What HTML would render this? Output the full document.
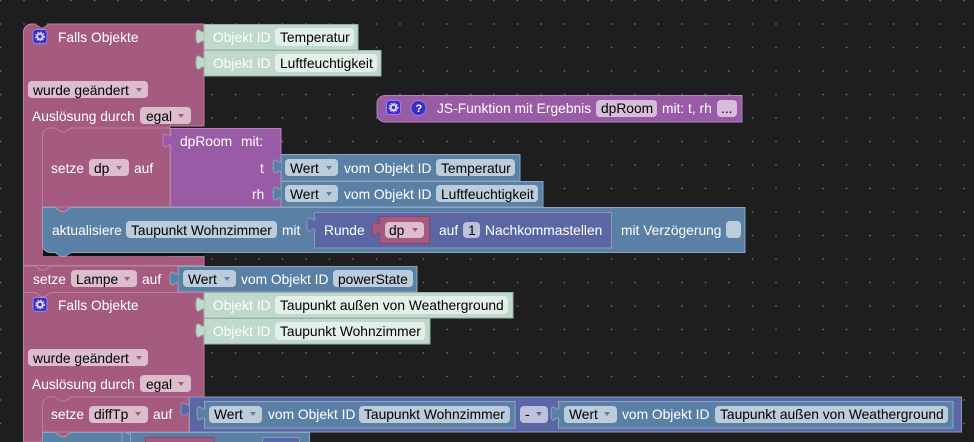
<!DOCTYPE html>
<html><head><meta charset="utf-8"><style>
html,body{margin:0;padding:0;background:#1e1e1e;width:974px;height:442px;overflow:hidden}
svg{display:block;position:absolute;left:0;top:0}
text{font-family:"Liberation Sans",sans-serif;font-size:13.8px;fill:#fff}
.k{fill:#000}
.pk{fill:#a55b80;stroke:#bd7f9e;stroke-width:1}
.bl{fill:#5b80a5;stroke:#8ca6c0;stroke-width:1}
.gr{fill:#bfd9cc;stroke:#98b3a5;stroke-width:1}
.pu{fill:#995ba5;stroke:#b384bd;stroke-width:1}
.in{fill:#5b67a5;stroke:#8c95c0;stroke-width:1}
.dp{fill:#a55b80;stroke:#8a4568;stroke-width:1}
.fp{fill:#dbbdcc}.fb{fill:#bdccdb}.fg{fill:#e5efea}.fu{fill:#d6bddb}.fi{fill:#bdc2db}
</style></head><body>
<svg width="974" height="442" viewBox="0 0 974 442" xmlns="http://www.w3.org/2000/svg">
<defs>
<pattern id="d" x="0" y="0" width="23.5" height="23.5" patternUnits="userSpaceOnUse"><circle cx="1" cy="1" r="0.9" fill="#6a6a6a"/></pattern>
<g id="ic"><rect x="0.5" y="0.5" width="14" height="14" rx="3" fill="#3d2cc9" stroke="#8f88e0"/><circle cx="7.500" cy="7.500" r="2.700" fill="none" stroke="#d8d4f5" stroke-width="2"/><circle cx="7.500" cy="7.500" r="4.300" fill="none" stroke="#d8d4f5" stroke-width="1.200" stroke-dasharray="1.6 1.3"/></g>
<path id="tab" d="M0 0c0,10 -8,-8 -8,7.500s8,-2.500 8,7.500"/>
</defs>
<rect width="974" height="442" fill="#1e1e1e"/>
<rect x="-1" y="-1" width="976" height="444" fill="url(#d)" transform="translate(-0.5,-0.5)"/>

<!-- JS function -->
<path class="pu" d="M385 95.500H742V122H385a8 8 0 0 1-8-8V104a8 8 0 0 1 8-8.500z"/>
<use href="#ic" x="386" y="100"/>
<circle cx="418.500" cy="108" r="7.500" fill="#3d2cc9" stroke="#8f88e0"/><text x="415.500" y="112" style="font-size:11px;font-weight:bold">?</text>
<text x="437" y="113">JS-Funktion mit Ergebnis</text>
<rect x="596" y="100" width="61" height="17" rx="4" class="fu"/><text x="601" y="113" class="k">dpRoom</text>
<text x="662" y="113">mit: t, rh</text>
<rect x="717" y="100" width="20" height="17" rx="4" class="fu"/><text x="721" y="113" class="k">...</text>

<!-- Block 1 -->
<rect x="30" y="262" width="30" height="10" fill="#a55b80"/>
<path class="pk" d="M23.500 32a8 8 0 0 1 8-8H35l6 4h2l6-4H204V126H170V256H204V265.500H23.500z"/>
<use href="#ic" x="32.500" y="29"/>
<text x="58" y="42">Falls Objekte</text>
<rect x="28" y="81" width="120" height="17" rx="4" class="fp"/><text x="33" y="95" class="k">wurde geändert</text><path d="M136 88h6l-3 4z" fill="#a55b80"/>
<text x="32" y="121">Auslösung durch</text>
<rect x="140" y="107" width="51" height="17" rx="4" class="fp"/><text x="146" y="121" class="k">egal</text><path d="M178 114h6l-3 4z" fill="#a55b80"/>

<path class="gr" d="M204 24.500H358V50H204z"/><use href="#tab" x="204" y="29" class="gr"/>
<text x="213" y="42">Objekt ID</text><rect x="275" y="28" width="79" height="18" rx="4" class="fg"/><text x="280" y="42" class="k">Temperatur</text>
<path class="gr" d="M204 50.500H381V76H204z"/><use href="#tab" x="204" y="55" class="gr"/>
<text x="213" y="68">Objekt ID</text><rect x="275" y="54" width="102" height="18" rx="4" class="fg"/><text x="280" y="68" class="k">Luftfeuchtigkeit</text>

<!-- setze dp -->
<rect x="43" y="250" width="161" height="6" fill="#111"/>
<rect x="53" y="204" width="20" height="9" fill="#a55b80"/>
<path class="pk" d="M42.500 136a8 8 0 0 1 8-8H55l6 4h4l6-4H170V207H42.500z"/>
<text x="51" y="173">setze</text>
<rect x="89" y="159" width="40" height="17" rx="4" class="fp"/><text x="94" y="173" class="k">dp</text><path d="M116 166h6l-3 4z" fill="#a55b80"/>
<text x="134" y="173">auf</text>
<path class="pu" d="M170.500 128.500H281V207H170.500z"/><use href="#tab" x="171" y="133" class="pu"/>
<text x="180" y="146">dpRoom</text><text x="241" y="146">mit:</text>
<text x="260" y="173">t</text><text x="252" y="199">rh</text>

<path class="bl" d="M281 154.500H520V181H281z"/><use href="#tab" x="281" y="159" class="bl"/>
<rect x="285" y="159" width="53" height="17" rx="4" class="fb"/><text x="290" y="173" class="k">Wert</text><path d="M326 166h6l-3 4z" fill="#5b80a5"/>
<text x="344" y="173">vom Objekt ID</text><rect x="436" y="159" width="79" height="17" rx="4" class="fb"/><text x="441" y="173" class="k">Temperatur</text>
<path class="bl" d="M281 181.500H543V207H281z"/><use href="#tab" x="281" y="186" class="bl"/>
<rect x="285" y="185" width="53" height="17" rx="4" class="fb"/><text x="290" y="199" class="k">Wert</text><path d="M326 192h6l-3 4z" fill="#5b80a5"/>
<text x="344" y="199">vom Objekt ID</text><rect x="436" y="185" width="102" height="17" rx="4" class="fb"/><text x="441" y="199" class="k">Luftfeuchtigkeit</text>

<!-- aktualisiere -->
<path class="bl" d="M42.500 207.500H55l6 4h4l6-4H745V252.500H71l-6 4h-4l-6-4H50a8 8 0 0 1-7.500-8z"/>
<text x="52" y="235">aktualisiere</text>
<rect x="126" y="221" width="151" height="17" rx="4" class="fb"/><text x="131" y="235" class="k">Taupunkt Wohnzimmer</text>
<text x="282" y="235">mit</text>
<path class="in" d="M314.500 212.500H611.500V248H314.500z"/><use href="#tab" x="315" y="217" class="in"/>
<text x="324" y="235">Runde</text>
<path class="dp" d="M379.500 216.500H429.500V243.500H379.500z"/><use href="#tab" x="380" y="221" class="dp"/>
<rect x="385" y="222" width="39" height="16" rx="4" class="fp"/><text x="389" y="235" class="k">dp</text><path d="M412 228h6l-3 4z" fill="#a55b80"/>
<text x="439" y="235">auf</text>
<rect x="463" y="222" width="17" height="16" rx="4" class="fi"/><text x="468" y="235" class="k">1</text>
<text x="485" y="235">Nachkommastellen</text>
<text x="621" y="235">mit Verzögerung</text>
<rect x="726" y="221" width="15" height="17" rx="4" class="fb"/>

<!-- setze Lampe -->
<path class="pk" d="M23.500 266H35l6 4h4l6-4H178V297H23.500z"/>
<text x="33" y="284">setze</text>
<rect x="71" y="270" width="66" height="17" rx="4" class="fp"/><text x="76" y="284" class="k">Lampe</text><path d="M124 277h6l-3 4z" fill="#a55b80"/>
<text x="142" y="284">auf</text>
<path class="bl" d="M178 266.500H417V292H178z"/><use href="#tab" x="178" y="271" class="bl"/>
<rect x="183" y="270" width="53" height="17" rx="4" class="fb"/><text x="188" y="284" class="k">Wert</text><path d="M224 277h6l-3 4z" fill="#5b80a5"/>
<text x="241" y="284">vom Objekt ID</text><rect x="333" y="270" width="80" height="17" rx="4" class="fb"/><text x="338" y="284" class="k">powerState</text>

<!-- Block 2 -->
<path class="pk" d="M23.500 292.500H35l6 4h4l6-4H204V442H23.500z"/>
<use href="#ic" x="32.500" y="297"/>
<text x="58" y="310">Falls Objekte</text>
<rect x="28" y="349" width="120" height="17" rx="4" class="fp"/><text x="33" y="363" class="k">wurde geändert</text><path d="M136 356h6l-3 4z" fill="#a55b80"/>
<text x="32" y="389">Auslösung durch</text>
<rect x="140" y="375" width="51" height="17" rx="4" class="fp"/><text x="146" y="389" class="k">egal</text><path d="M178 382h6l-3 4z" fill="#a55b80"/>
<path class="gr" d="M204 292.500H513V318H204z"/><use href="#tab" x="204" y="297" class="gr"/>
<text x="213" y="310">Objekt ID</text><rect x="275" y="296" width="233" height="18" rx="4" class="fg"/><text x="280" y="310" class="k">Taupunkt außen von Weatherground</text>
<path class="gr" d="M204 318.500H430V344H204z"/><use href="#tab" x="204" y="323" class="gr"/>
<text x="213" y="336">Objekt ID</text><rect x="275" y="322" width="150" height="18" rx="4" class="fg"/><text x="280" y="336" class="k">Taupunkt Wohnzimmer</text>

<!-- setze diffTp -->
<rect x="53" y="429" width="20" height="9" fill="#a55b80"/>
<path class="pk" d="M42.500 405a8 8 0 0 1 8-8H55l6 4h4l6-4H189V432H42.500z"/>
<text x="51" y="419">setze</text>
<rect x="89" y="406" width="59" height="17" rx="4" class="fp"/><text x="94" y="419" class="k">diffTp</text><path d="M135 412h6l-3 4z" fill="#a55b80"/>
<text x="153" y="419">auf</text>
<path class="in" d="M189.500 397H961.500V432H189.500z"/><use href="#tab" x="189" y="402" class="in"/>
<path class="bl" d="M204.500 401.500H515V428H204.500z"/><use href="#tab" x="205" y="406" class="bl"/>
<rect x="209" y="406" width="53" height="17" rx="4" class="fb"/><text x="214" y="419" class="k">Wert</text><path d="M250 412h6l-3 4z" fill="#5b80a5"/>
<text x="268" y="419">vom Objekt ID</text><rect x="359" y="406" width="151" height="17" rx="4" class="fb"/><text x="364" y="419" class="k">Taupunkt Wohnzimmer</text>
<rect x="520" y="406" width="28" height="17" rx="4" class="fi"/><text x="525" y="419" class="k">-</text><path d="M536 412h6l-3 4z" fill="#5b67a5"/>
<path class="bl" d="M558.500 401.500H953V428H558.500z"/><use href="#tab" x="559" y="406" class="bl"/>
<rect x="564" y="406" width="53" height="17" rx="4" class="fb"/><text x="569" y="419" class="k">Wert</text><path d="M604 412h6l-3 4z" fill="#5b80a5"/>
<text x="622" y="419">vom Objekt ID</text><rect x="715" y="406" width="233" height="17" rx="4" class="fb"/><text x="720" y="419" class="k">Taupunkt außen von Weatherground</text>

<!-- bottom -->
<path class="bl" d="M42.500 432.500H55l6 4h4l6-4H309.500V443H42.500z"/>
<path class="bl" d="M130.500 432.500V443"/><use href="#tab" x="130" y="431" class="bl"/>
<path class="dp" d="M145.500 437.500H214V444H145.500z"/>
<path class="in" d="M262.500 437.500H299.500V444H262.500z"/>
</svg>
</body></html>
